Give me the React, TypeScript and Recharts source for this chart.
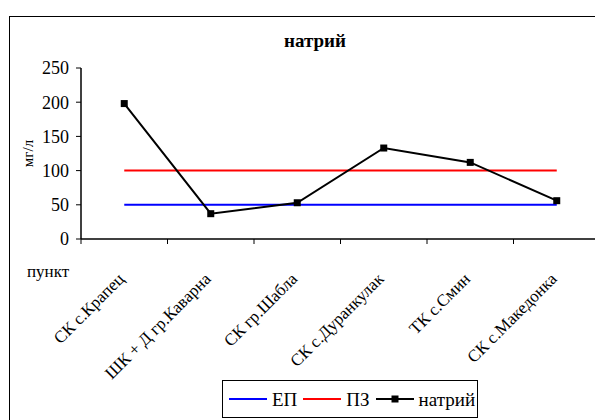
import React from "react"
import { LineChart, Line, XAxis, YAxis, Legend } from "recharts"

const FONT = "Liberation Serif, Tinos, Times New Roman, DejaVu Serif, serif"

const points = [
 "СК с.Крапец",
 "ШК + Д гр.Каварна",
 "СК гр.Шабла",
 "СК с.Дуранкулак",
 "ТК с.Смин",
 "СК с.Македонка",
]
const sodium = [198, 37, 53, 133, 112, 56]
const epLimit = [50, 50, 50, 50, 50, 50]
const pzLimit = [100, 100, 100, 100, 100, 100]
const yTicks = [0, 50, 100, 150, 200, 250]

const data = points.map((name, i) => ({
 name,
 ep: epLimit[i],
 pz: pzLimit[i],
 sodium: sodium[i],
}))

const CategoryTick = (props: any) => {
 const { x, y, payload, index } = props
 const half = payload?.offset ?? 43.25
 const ax = x + 1
 const ay = y + 41
 return (
  <g>
   <line x1={x - half} y1={y} x2={x - half} y2={y + 5} stroke="#000" />
   {index === points.length - 1 ? (
    <line x1={x + half} y1={y} x2={x + half} y2={y + 5} stroke="#000" />
   ) : null}
   <text
    x={ax}
    y={ay}
    transform={`rotate(-45, ${ax}, ${ay})`}
    textAnchor="end"
    fontSize={17}
    style={{ fontFamily: FONT }}
    fill="#000">
    {payload.value}
   </text>
  </g>
 )
}

const SquareDot = (props: any) => {
 const { cx, cy } = props
 if (cx == null || cy == null) return null
 return <rect x={cx - 3.5} y={cy - 3.5} width={7} height={7} fill="#000" />
}

const LegendBox = (props: any) => {
 const items = props.payload || []
 return (
  <div
   style={{
    boxSizing: "border-box",
    width: 256,
    height: 38,
    border: "1px solid #000",
    background: "#fff",
    display: "flex",
    alignItems: "center",
    paddingLeft: 6,
    fontFamily: FONT,
    fontSize: 19,
    color: "#000",
   }}>
   {items.map((item: any) => (
    <div key={item.value} style={{ display: "flex", alignItems: "center", marginRight: 6 }}>
     <svg width={38} height={10} style={{ display: "block" }}>
      <line x1={0} y1={5} x2={38} y2={5} stroke={item.color} strokeWidth={2} />
      {item.dataKey === "sodium" ? <rect x={15.5} y={1.5} width={7} height={7} fill="#000" /> : null}
     </svg>
     <span style={{ marginLeft: 5, lineHeight: 1 }}>{item.value}</span>
    </div>
   ))}
  </div>
 )
}

export default function App() {
 return (
  <div
   style={{
    position: "relative",
    width: 595,
    height: 412,
    overflow: "hidden",
    background: "#fff",
    fontFamily: FONT,
   }}>
   <div
    style={{
     position: "absolute",
     left: 0.5,
     top: 7.5,
     width: 800,
     height: 800,
     border: "1.5px solid #000",
    }}
   />
   <div
    style={{
     position: "absolute",
     left: 207,
     top: 23,
     width: 200,
     textAlign: "center",
     fontWeight: "bold",
     fontSize: 19,
     lineHeight: "19px",
    }}>
    натрий
   </div>
   <div
    style={{
     position: "absolute",
     left: 19,
     top: 255,
     fontSize: 17,
     lineHeight: "17px",
    }}>
    пункт
   </div>
   <div style={{ position: "absolute", left: 0, top: 0 }}>
    <LineChart
     width={595}
     height={412}
     data={data}
     margin={{ top: 60, right: 3, bottom: 31, left: 0 }}
     style={{ fontFamily: FONT }}>
     <XAxis
      dataKey="name"
      scale="band"
      interval={0}
      height={150}
      tickSize={0}
      tickMargin={0}
      tickLine={false}
      axisLine={{ stroke: "#000", strokeWidth: 1.5 }}
      tick={<CategoryTick />}
     />
     <XAxis
      xAxisId="top"
      dataKey="name"
      scale="band"
      orientation="top"
      height={0}
      tick={false}
      tickLine={false}
      axisLine={{ stroke: "#808080", strokeWidth: 1.5 }}
     />
     <YAxis
      domain={[0, 250]}
      ticks={yTicks}
      interval={0}
      width={73}
      tickSize={5}
      tickMargin={7}
      axisLine={{ stroke: "#000", strokeWidth: 1.5 }}
      tickLine={{ stroke: "#000" }}
      tick={{ fill: "#000", fontSize: 18, style: { fontFamily: FONT } }}
      label={{
       value: "мг/л",
       angle: -90,
       position: "insideLeft",
       offset: 20,
       style: { textAnchor: "middle", fill: "#000", fontSize: 15, fontFamily: FONT },
      }}
     />
     <YAxis
      yAxisId="right"
      orientation="right"
      domain={[0, 250]}
      width={0}
      tick={false}
      tickLine={false}
      axisLine={{ stroke: "#808080", strokeWidth: 1.5 }}
     />
     <Legend
      verticalAlign="middle"
      align="center"
      layout="horizontal"
      wrapperStyle={{ position: "absolute", left: 214, top: 372, width: 256, height: 38 }}
      content={<LegendBox />}
     />
     <Line
      dataKey="ep"
      name="ЕП"
      stroke="#0000ff"
      strokeWidth={2}
      dot={false}
      activeDot={false}
      isAnimationActive={false}
     />
     <Line
      dataKey="pz"
      name="ПЗ"
      stroke="#ff0000"
      strokeWidth={2}
      dot={false}
      activeDot={false}
      isAnimationActive={false}
     />
     <Line
      dataKey="sodium"
      name="натрий"
      stroke="#000"
      strokeWidth={2}
      dot={<SquareDot />}
      activeDot={false}
      isAnimationActive={false}
     />
    </LineChart>
   </div>
  </div>
 )
}
